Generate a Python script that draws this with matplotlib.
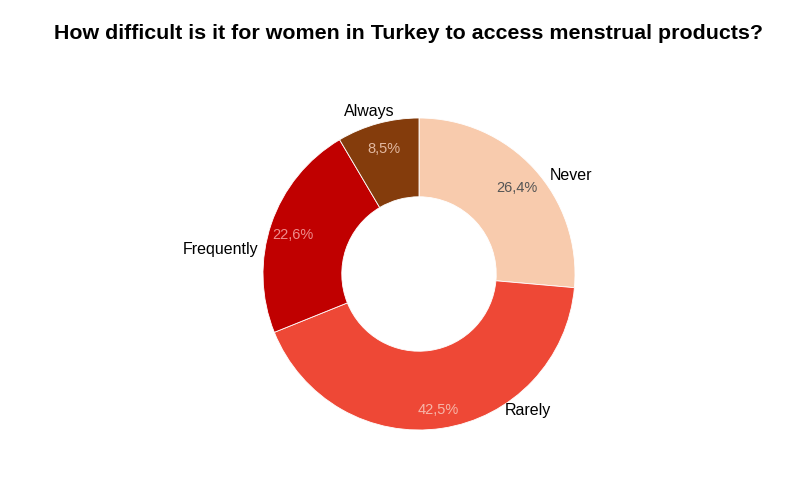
import matplotlib
matplotlib.use("Agg")
import matplotlib.pyplot as plt
import numpy as np

plt.rcParams['font.family'] = ['Liberation Sans', 'DejaVu Sans']

categories = ["Never", "Rarely", "Frequently", "Always"]
values = [26.4, 42.5, 22.6, 8.5]
pct_labels = ["26,4%", "42,5%", "22,6%", "8,5%"]
colors = ["#F8CBAD", "#EE4836", "#C00000", "#843C0C"]
pct_colors = ["#555555", "#F6B5A8", "#EE8C8C", "#E2B8A0"]

W, H = 800, 487
fig = plt.figure(figsize=(W/100, H/100), dpi=100)
cx, cy, R = 419, 274, 156
ax = fig.add_axes([0, 0, 1, 1])

wedges, _ = ax.pie(values, colors=colors, startangle=90, counterclock=False,
                   radius=1.0, wedgeprops=dict(width=0.505, edgecolor='white', linewidth=0.6))
ax.set_aspect('auto')
ax.set_xlim(-cx/R, (W-cx)/R)
ax.set_ylim(-(H-cy)/R, cy/R)
ax.axis('off')

total = sum(values)
cum = 0
for i, (c, v) in enumerate(zip(categories, values)):
    mid = 90 - (cum + v/2) / total * 360
    cum += v
    a = np.deg2rad(mid)
    pr = 0.855
    ax.text(pr*np.cos(a), pr*np.sin(a) - 0.025, pct_labels[i], ha='center', va='center',
            fontsize=10.5, color=pct_colors[i])

# category labels
for c in categories:
    if c == "Never":
        x, y, ha = 0.835, 0.63, 'left'
    elif c == "Rarely":
        x, y, ha = 0.55, -0.875, 'left'
    elif c == "Frequently":
        x, y, ha = -1.03, 0.16, 'right'
    else:
        x, y, ha = -0.32, 1.04, 'center'
    ax.text(x, y, c, ha=ha, va='center', fontsize=11.5, color='black')

fig.text(408/W, 1-33/H, "How difficult is it for women in Turkey to access menstrual products?",
         ha='center', va='center', fontsize=15.4, fontweight='bold')

fig.savefig("out.png", dpi=100, facecolor='white')
